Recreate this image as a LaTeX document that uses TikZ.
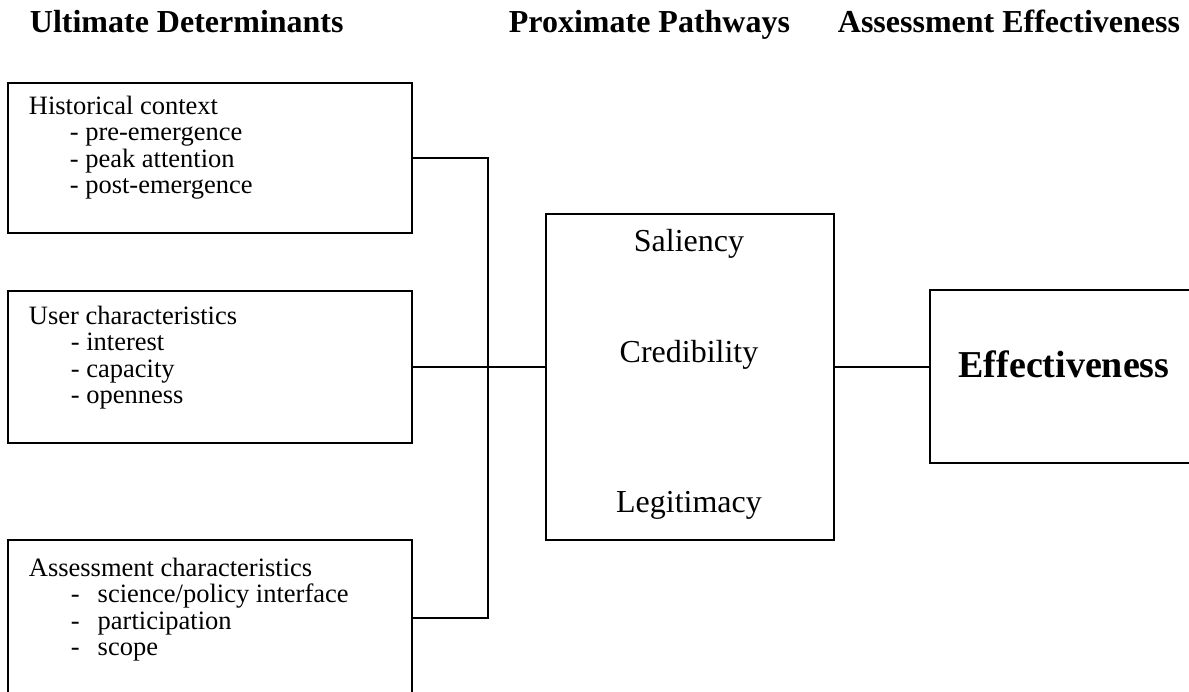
\documentclass[tikz,border=0pt]{standalone}
\usepackage{fontspec}
\setmainfont{Liberation Serif}
\begin{document}
\begin{tikzpicture}[x=1pt,y=-1pt,line width=1.8pt,
   detbox/.style={draw,rectangle,anchor=north west,inner sep=0pt},
   head/.style={font=\fontsize{32}{36}\selectfont\bfseries,anchor=base west,inner sep=0pt},
   boxtext/.style={font=\fontsize{26.5}{26.5}\selectfont,align=left,anchor=north west,inner sep=0pt},
   pathway/.style={font=\fontsize{32}{36}\selectfont,anchor=base,inner sep=0pt}]
   \useasboundingbox (0,0) rectangle (1189,692);
   \clip (0,0) rectangle (1189,692);
   % column headings
   \node[head] (ultimate)  at (29,33)  {Ultimate Determinants};
   \node[head] (proximate) at (508,33) {Proximate Pathways};
   \node[head] (assessment) at (837,33) {Assessment Effectiveness};
   % determinants
   \node[detbox,minimum width=404pt,minimum height=150pt] (hist) at (7,82) {};
   \node[boxtext] (histtxt) at (28,95) {Historical context\\
      \hspace*{41pt}- pre-emergence\\
      \hspace*{41pt}- peak attention\\
      \hspace*{41pt}- post-emergence};
   \node[detbox,minimum width=404pt,minimum height=152pt] (user) at (7,290) {};
   \node[boxtext] (usertxt) at (28,305) {User characteristics\\
      \hspace*{42pt}- interest\\
      \hspace*{42pt}- capacity\\
      \hspace*{42pt}- openness};
   \node[detbox,minimum width=404pt,minimum height=156pt] (asmt) at (7,539) {};
   \node[boxtext] (asmttxt) at (28,557) {Assessment characteristics\\
      \hspace*{42pt}-\hspace{18pt}science/policy interface\\
      \hspace*{42pt}-\hspace{18pt}participation\\
      \hspace*{42pt}-\hspace{18pt}scope};
   % pathways
   \node[detbox,minimum width=288pt,minimum height=326pt] (path) at (545,213) {};
   \node[pathway] (saliency)    at (689,252) {Saliency};
   \node[pathway] (credibility) at (689,363) {Credibility};
   \node[pathway] (legitimacy)  at (689,512) {Legitimacy};
   % effectiveness
   \node[detbox,minimum width=320pt,minimum height=173pt] (effect) at (929,289) {};
   \node[pathway,font=\fontsize{38}{42}\selectfont\bfseries] (efftxt) at (1064,378) {Effectiveness};
   % connectors
   \coordinate (bus) at (488,366);
   \draw (hist.east) -| (bus) |- (asmt.east);
   \draw (user.east) -- (user.east -| path.west);
   \draw (user.east -| path.east) -- (user.east -| effect.west);
\end{tikzpicture}
\end{document}
